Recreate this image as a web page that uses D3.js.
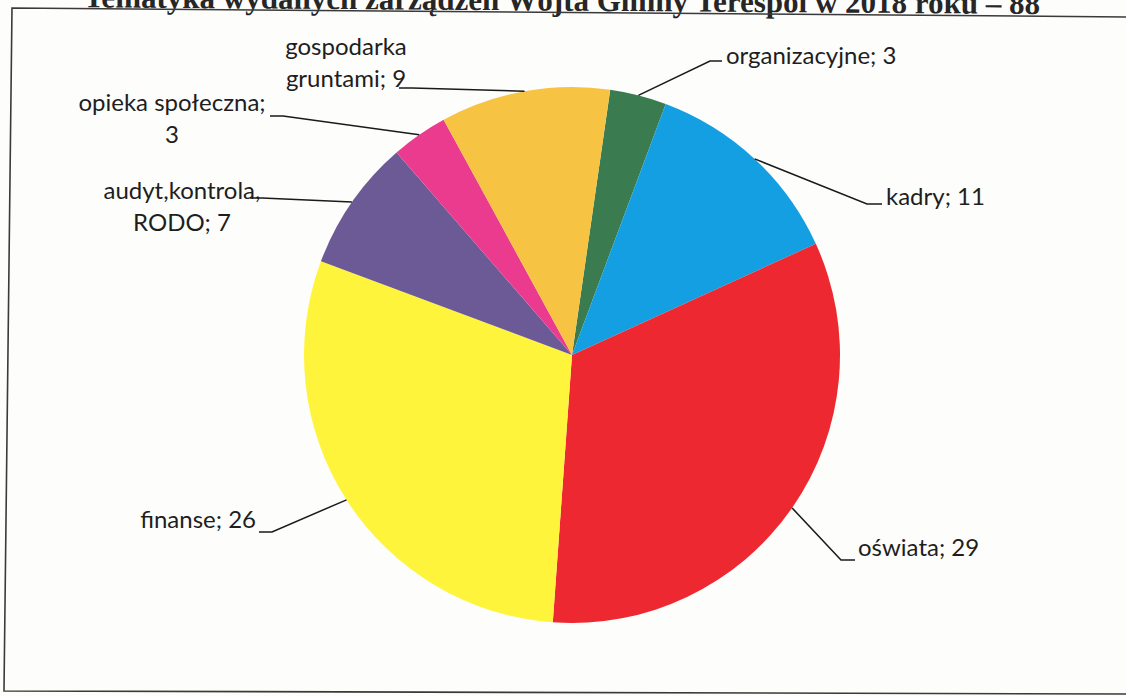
<!DOCTYPE html>
<html><head><meta charset="utf-8">
<script src="https://cdn.jsdelivr.net/npm/d3@7"></script>
<style>body{margin:0;background:#fdfdfb;overflow:hidden}</style></head>
<body><svg id="c" width="1126" height="696"></svg>
<script>
// ---- data ----
const categories = ["organizacyjne", "kadry", "oświata", "finanse", "audyt,kontrola, RODO", "opieka społeczna", "gospodarka gruntami"];
const values = [3, 11, 29, 26, 7, 3, 9];
const colors = ["#3a7b4f", "#149fe2", "#ee2830", "#fff43c", "#6c5a97", "#ea3b8e", "#f7c342"];
const titleText = "Tematyka wydanych zarządzeń Wójta Gminy Terespol w 2018 roku – 88";

// ---- layout (positions only) ----
const W = 1126, H = 696;
const cx = 572, cy = 355, R = 268;
const startDeg = 8.2;
const labelLayout = [
  {anchor: "start",  x: 726, y: 64,  split: 0, elbow: [[710, 61], [722, 61]]},
  {anchor: "start",  x: 886, y: 205, split: 0, elbow: [[867, 204], [882, 204]]},
  {anchor: "start",  x: 858, y: 556, split: 0, elbow: [[841, 560], [855, 560]]},
  {anchor: "end",    x: 256, y: 528, split: 0, elbow: [[272, 532], [259, 532]]},
  {anchor: "middle", x: 182, y: 199, split: 1, elbow: [[262, 198], [250, 198]]},
  {anchor: "middle", x: 172, y: 111, split: 2, elbow: [[283, 116], [270, 116]]},
  {anchor: "middle", x: 346, y: 55,  split: 1, elbow: [[412, 88], [399, 88]]}
];
const lineGap = 32;

const svg = d3.select("#c");
svg.append("rect").attr("width", W).attr("height", H).attr("fill", "#fdfdfb");

// title (cut off at the top by the scan)
svg.append("text").attr("x", 1040).attr("y", 14)
  .attr("transform", "rotate(0.4 1040 14)")
  .attr("text-anchor", "end")
  .attr("font-family", "'Liberation Serif', serif").attr("font-weight", "bold")
  .attr("font-size", 31).attr("fill", "#262626").text(titleText);

// frame
svg.append("path")
  .attr("d", "M12,8 L1134,17 L1134,694 L4,691 Z")
  .attr("fill", "none").attr("stroke", "#3a3a3a").attr("stroke-width", 1.6);

const pie = d3.pie().sort(null).value(d => d)
  .startAngle(startDeg * Math.PI / 180)
  .endAngle(startDeg * Math.PI / 180 + 2 * Math.PI);
const arcs = pie(values);
const arc = d3.arc().innerRadius(0).outerRadius(R);

const g = svg.append("g").attr("transform", `translate(${cx},${cy})`);
g.selectAll("path.slice").data(arcs).join("path")
  .attr("class", "slice")
  .attr("d", arc)
  .attr("fill", (d, i) => colors[i]);

// leader lines
arcs.forEach((a, i) => {
  const m = (a.startAngle + a.endAngle) / 2;
  const px = cx + R * Math.sin(m), py = cy - R * Math.cos(m);
  const L = labelLayout[i];
  svg.append("path")
    .attr("d", d3.line()([[px, py], ...L.elbow]))
    .attr("fill", "none").attr("stroke", "#1a1a1a").attr("stroke-width", 1.5);
});

// labels
categories.forEach((c, i) => {
  const L = labelLayout[i];
  const full = c + "; " + values[i];
  const words = full.split(" ");
  const lines = L.split ? [words.slice(0, L.split).join(" "), words.slice(L.split).join(" ")] : [full];
  const t = svg.append("text")
    .attr("text-anchor", L.anchor)
    .attr("font-family", "Lato, 'Open Sans', sans-serif")
    .attr("font-size", 24).attr("fill", "#1e1e1e");
  lines.forEach((ln, k) => {
    t.append("tspan").attr("x", L.x).attr("y", L.y + k * lineGap).text(ln);
  });
});
</script></body></html>
